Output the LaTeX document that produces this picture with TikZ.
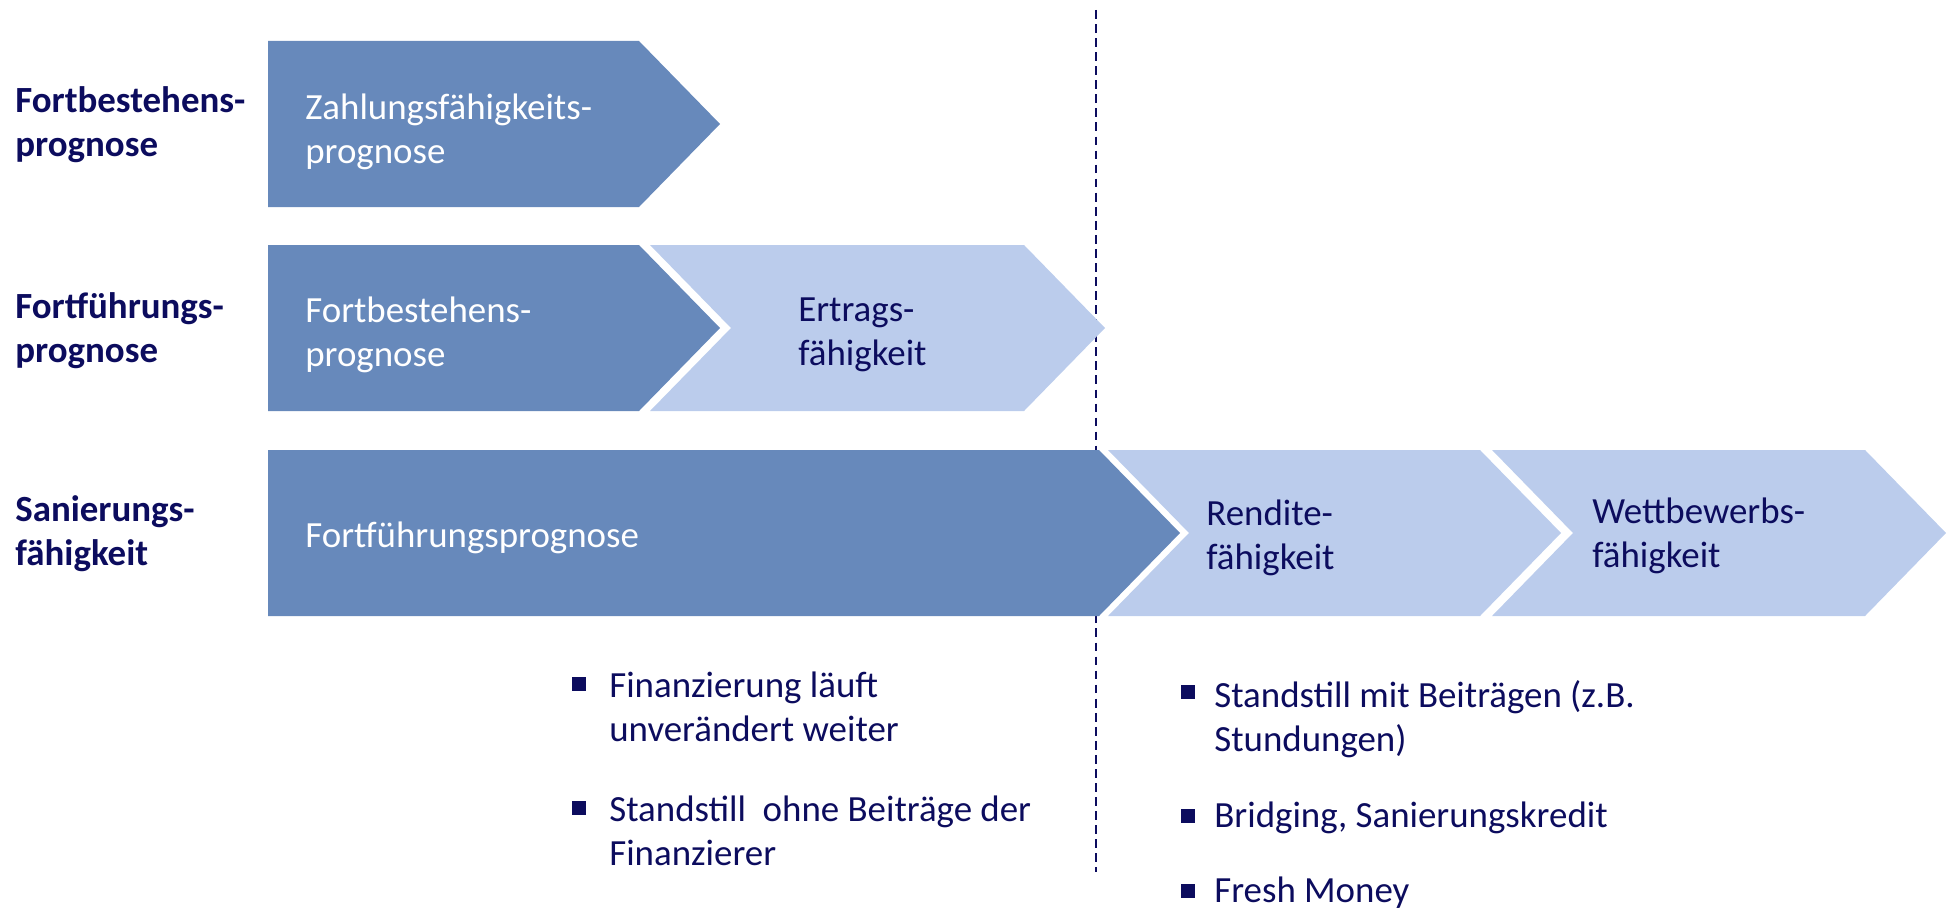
\documentclass[tikz,border=0pt]{standalone}
\usepackage{fontspec}
\setmainfont{Carlito}
\usepackage{xcolor}
\usepackage{tikz}
\definecolor{navy}{HTML}{0C0C5E}
\definecolor{darkblue}{HTML}{6789BB}
\definecolor{lightblue}{HTML}{BBCCEC}
\tikzset{
	lbl/.style={anchor=west,align=left,inner sep=0pt,text=navy,font=\fontsize{21}{25}\selectfont\bfseries},
	wtxt/.style={anchor=west,align=left,inner sep=0pt,text=white,font=\fontsize{21}{25}\selectfont},
	ntxt/.style={anchor=west,align=left,inner sep=0pt,text=navy,font=\fontsize{21}{25}\selectfont},
	bullet/.style={fill=navy,inner sep=0pt,minimum size=0.27cm}
}
\newcommand{\chevron}[4]{\fill[#1] (#2,#3) -- (#4,#3) -- ++(81,83) -- ++(-81,83) -- (#2,#3+166) -- cycle;}
\newcommand{\notchchevron}[4]{\fill[#1] (#2,#3) -- (#4,#3) -- ++(81,83) -- ++(-81,83) -- (#2,#3+166) -- ++(81,-83) -- cycle;}

\begin{document}
\begin{tikzpicture}[x=0.02cm,y=-0.02cm]
	\useasboundingbox (0,0) rectangle (1953,909);
	\draw[navy,line width=1.1pt,dash pattern=on 5pt off 3pt] (1096,10)--(1096,872);
	% rows of chevrons
	\chevron{darkblue}{268}{41}{639}
	\chevron{darkblue}{268}{245}{639}
	\notchchevron{lightblue}{650}{245}{1024}
	\chevron{darkblue}{268}{450}{1099}
	\notchchevron{lightblue}{1108}{450}{1480}
	\notchchevron{lightblue}{1492}{450}{1865}
	% left labels
	\node[lbl] (fbp) at (15,125) {Fortbestehens-\\prognose};
	\node[lbl] (ffp) at (15,331) {Fortführungs-\\prognose};
	\node[lbl] (snf) at (15,534) {Sanierungs-\\fähigkeit};
	% texts in the chevrons
	\node[wtxt] (zfp) at (305,132) {Zahlungsfähigkeits-\\prognose};
	\node[wtxt] (fbp2) at (305,335) {Fortbestehens-\\prognose};
	\node[ntxt] (ef) at (798,335) {Ertrags-\\fähigkeit};
	\node[wtxt] (ffp2) at (305,538) {Fortführungsprognose};
	\node[ntxt] (rf) at (1206,538) {Rendite-\\fähigkeit};
	\node[ntxt] (wf) at (1592,536) {Wettbewerbs-\\fähigkeit};
	% bullets
	\node[bullet] (b1) at (579,684) {};
	\node[ntxt] (t1) at (609,707) {Finanzierung läuft\\unverändert weiter};
	\node[bullet] (b2) at (579,808) {};
	\node[ntxt] (t2) at (609,831) {Standstill~ ohne Beiträge der\\Finanzierer};
	\node[bullet] (b3) at (1188,692) {};
	\node[ntxt] (t3) at (1214,719) {Standstill mit Beiträgen (z.B.\\Stundungen)};
	\node[bullet] (b4) at (1188,816) {};
	\node[ntxt] (t4) at (1214,818) {Bridging, Sanierungskredit};
	\node[bullet] (b5) at (1188,891) {};
	\node[ntxt] (t5) at (1214,893) {Fresh Money};
\end{tikzpicture}
\end{document}
